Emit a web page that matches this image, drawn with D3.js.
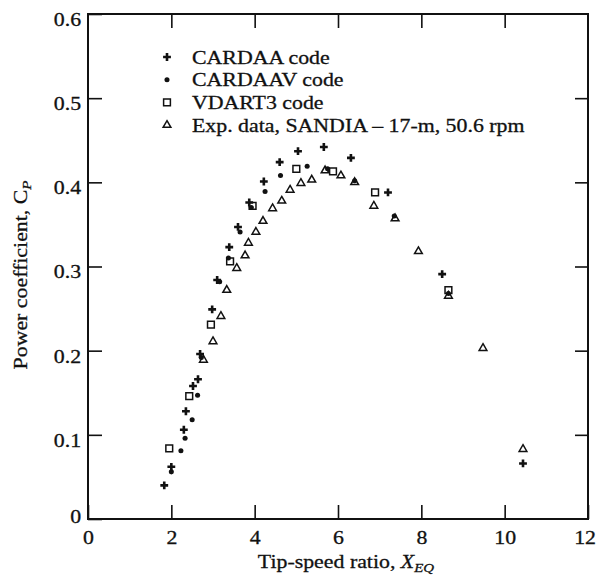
<!DOCTYPE html>
<html>
<head>
<meta charset="utf-8">
<script src="https://cdn.jsdelivr.net/npm/d3@7/dist/d3.min.js"></script>
<style>
  body{
    margin:0;
    background:white;
  }
  svg text{
    font-family:"Liberation Serif","Times New Roman",serif;
    fill:#111;
    stroke:#111;
    stroke-width:0.3px;
  }
</style>
</head>
<body>
<div id="chart"></div>
<script>

// tip-speed ratio / power coefficient pairs
const cardaa = [
  [1.83,0.040],[2.00,0.062],[2.30,0.106],[2.35,0.128],[2.52,0.158],
  [2.64,0.166],[2.69,0.196],[2.98,0.249],[3.10,0.284],[3.39,0.323],
  [3.60,0.347],[3.87,0.376],[4.22,0.401],[4.60,0.424],[5.04,0.437],
  [5.66,0.442],[6.31,0.429],[7.20,0.388],[8.50,0.291],[10.44,0.066]
];

const cardaav = [
  [2.00,0.056],[2.23,0.081],[2.33,0.096],[2.50,0.118],[2.63,0.147],
  [2.72,0.192],[3.16,0.282],[3.37,0.310],[3.65,0.341],[3.92,0.370],
  [4.25,0.389],[4.62,0.408],[5.26,0.419],[5.75,0.416],[6.40,0.402],
  [7.35,0.360],[8.65,0.268]
];

const vdart3 = [
  [1.95,0.084],[2.43,0.146],[2.95,0.231],[3.41,0.306],[3.95,0.372],
  [5.00,0.416],[5.88,0.413],[6.89,0.388],[8.65,0.272]
];

const sandia = [
  [2.77,0.189],[3.00,0.211],[3.19,0.241],[3.33,0.272],[3.57,0.298],
  [3.77,0.313],[3.85,0.328],[4.03,0.341],[4.20,0.354],[4.43,0.369],
  [4.65,0.378],[4.85,0.391],[5.11,0.399],[5.37,0.403],[5.69,0.414],
  [6.07,0.408],[6.40,0.400],[6.86,0.372],[7.37,0.357],[7.93,0.318],
  [8.65,0.265],[9.48,0.203],[10.44,0.083]
];

const xTicks = [0,2,4,6,8,10,12];
const yTicks = [0,0.1,0.2,0.3,0.4,0.5,0.6];

const legendLabels = [
  "CARDAA code",
  "CARDAAV code",
  "VDART3 code",
  "Exp. data, SANDIA \u2013 17-m, 50.6 rpm"
];

const width = 596;
const height = 579;
const stretch = 1.15;   // the scanned type is set a bit wide
const fontSize = 19;

const svg = d3.select("#chart")
  .append("svg")
  .attr("width",width)
  .attr("height",height);

const x = d3.scaleLinear()
  .domain([0,12])
  .range([88,588]);

const y = d3.scaleLinear()
  .domain([0,0.6])
  .range([519,14]);

const tickLen = 14;

// bottom axis with labels
const gx = svg.append("g")
  .attr("transform",`translate(0,${y(0)})`)
  .call(
    d3.axisBottom(x)
      .tickValues(xTicks)
      .tickSizeInner(-tickLen)
      .tickSizeOuter(0)
      .tickPadding(12)
      .tickFormat(d3.format("d"))
  );

// left axis with labels
const gy = svg.append("g")
  .attr("transform",`translate(${x(0)},0)`)
  .call(
    d3.axisLeft(y)
      .tickValues(yTicks)
      .tickSizeInner(-tickLen)
      .tickSizeOuter(0)
      .tickPadding(6)
      .tickFormat(d => d === 0 ? "0" : d3.format(".1f")(d))
  );

// top and right: ticks only
const gt = svg.append("g")
  .attr("transform",`translate(0,${y(0.6)})`)
  .call(
    d3.axisTop(x)
      .tickValues(xTicks.slice(1,-1))
      .tickSizeInner(-tickLen)
      .tickSizeOuter(0)
      .tickFormat("")
  );

const gr = svg.append("g")
  .attr("transform",`translate(${x(12)},0)`)
  .call(
    d3.axisRight(y)
      .tickValues(yTicks.slice(1,-1))
      .tickSizeInner(-13)
      .tickSizeOuter(0)
      .tickFormat("")
  );

[gx,gy,gt,gr].forEach(g => {
  g.select(".domain").remove();
  g.selectAll(".tick line")
    .attr("stroke","#111")
    .attr("stroke-width",1.6);
  g.selectAll("text")
    .style("font-size",fontSize+"px")
    .style("font-family","'Liberation Serif','Times New Roman',serif")
    .attr("fill","#111")
    .attr("transform",`scale(${stretch},1)`);
});

gy.selectAll(".tick text")
  .attr("dy",d => d === 0 ? "0.18em" : "0.6em");

// last label sits on the page edge; keep it inside
gx.selectAll(".tick text")
  .filter(d => d === 12)
  .attr("x",-3);

// frame
svg.append("rect")
  .attr("x",x(0))
  .attr("y",y(0.6))
  .attr("width",x(12)-x(0))
  .attr("height",y(0)-y(0.6))
  .attr("fill","none")
  .attr("stroke","#111")
  .attr("stroke-width",2);

// markers
const cross = d3.symbol().type(d3.symbolCross).size(34);
const dot = d3.symbol().type(d3.symbolCircle).size(20);
const square = d3.symbol().type(d3.symbolSquare).size(46);
const tri = d3.symbol().type(d3.symbolTriangle).size(26);

const seriesList = [
  {data:sandia, path:tri(), fill:"none", stroke:"#111", sw:1.5},
  {data:vdart3, path:square(), fill:"none", stroke:"#111", sw:1.5},
  {data:cardaav, path:dot(), fill:"#111", stroke:"none", sw:0},
  {data:cardaa, path:cross(), fill:"#111", stroke:"none", sw:0}
];

seriesList.forEach(s => {
  svg.append("g")
    .selectAll("path")
    .data(s.data)
    .join("path")
    .attr("d",s.path)
    .attr("transform",d => `translate(${x(d[0])},${y(d[1])})`)
    .attr("fill",s.fill)
    .attr("stroke",s.stroke)
    .attr("stroke-width",s.sw);
});

// legend
const legendMarks = [cross(), dot(), square(), tri()];
const legendStyle = [
  {fill:"#111", stroke:"none", sw:0},
  {fill:"#111", stroke:"none", sw:0},
  {fill:"none", stroke:"#111", sw:1.5},
  {fill:"none", stroke:"#111", sw:1.5}
];

const legend = svg.append("g");

legendLabels.forEach((label,i) => {
  const cy = 57 + i*22.7;
  legend.append("path")
    .attr("d",legendMarks[i])
    .attr("transform",`translate(167,${cy})`)
    .attr("fill",legendStyle[i].fill)
    .attr("stroke",legendStyle[i].stroke)
    .attr("stroke-width",legendStyle[i].sw);
  legend.append("text")
    .attr("transform",`translate(192,${cy+6.5}) scale(${stretch},1)`)
    .style("font-size",fontSize+"px")
    .text(label);
});

// axis titles
const xt = svg.append("text")
  .attr("transform",`translate(346,568) scale(${stretch},1)`)
  .attr("text-anchor","middle")
  .style("font-size",fontSize+"px");
xt.append("tspan").text("Tip-speed ratio, ");
xt.append("tspan").attr("font-style","italic").text("X");
xt.append("tspan")
  .attr("font-style","italic")
  .attr("dy",4)
  .style("font-size","13px")
  .text("EQ");

const yt = svg.append("text")
  .attr("transform",`translate(27,275) rotate(-90) scale(${stretch},1)`)
  .attr("text-anchor","middle")
  .style("font-size",fontSize+"px");
yt.append("tspan").text("Power coefficient, ");
yt.append("tspan").text("C");
yt.append("tspan")
  .attr("font-style","italic")
  .attr("dy",4)
  .style("font-size","13px")
  .text("P");

</script>
</body>
</html>
